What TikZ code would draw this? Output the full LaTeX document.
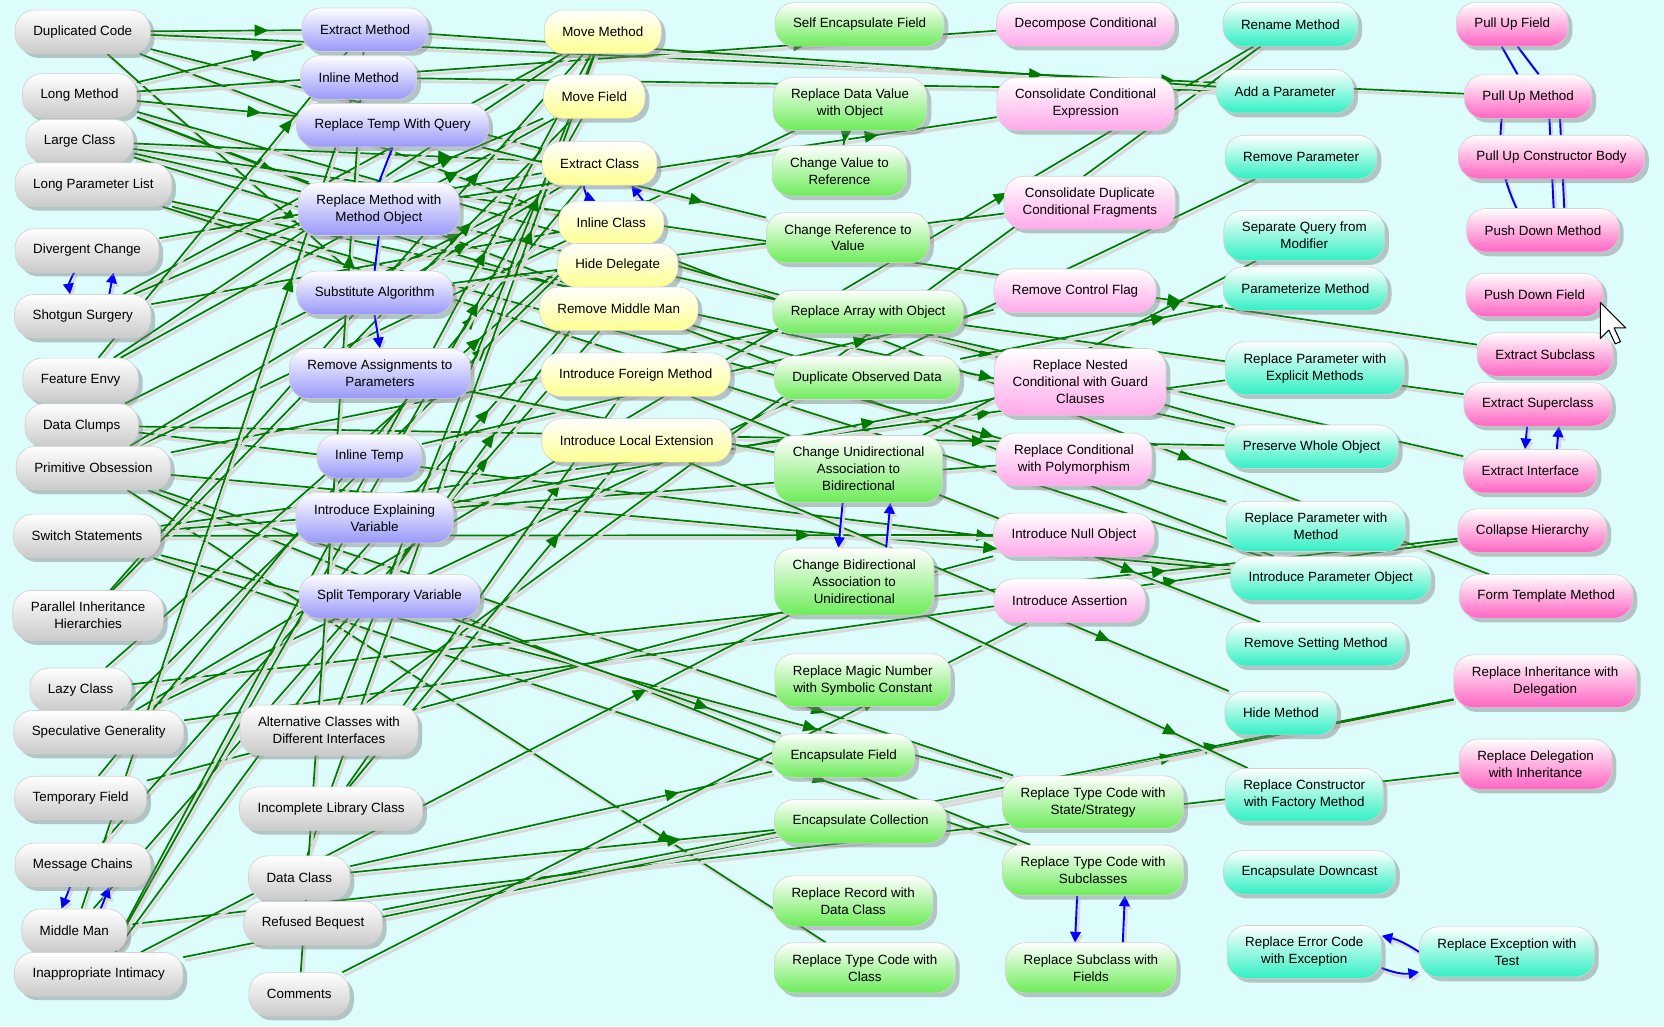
\documentclass[tikz,border=0pt]{standalone}
\usepackage{fontspec}
\setmainfont{Liberation Sans}
\usetikzlibrary{shadows,decorations.markings,arrows.meta,backgrounds}
\definecolor{bg}{HTML}{DDFCFC}
\definecolor{cg}{HTML}{CACACA}
\definecolor{cp}{HTML}{9898FA}
\definecolor{cy}{HTML}{FFFF90}
\definecolor{cgr}{HTML}{6CEC58}
\definecolor{cpk}{HTML}{FFA8EA}
\definecolor{ct}{HTML}{30F0C4}
\definecolor{cm}{HTML}{FF64C2}
\definecolor{eg}{HTML}{007A00}
\tikzset{
 box/.style={rounded corners=18pt, draw=gray!35, line width=0.6pt, top color=white, bottom color=#1,
   minimum height=41pt, inner xsep=17pt, inner ysep=11pt, align=center,
   font=\fontsize{12.6}{16}\selectfont,
   drop shadow={opacity=0.45, shadow xshift=4pt, shadow yshift=-4pt, fill=gray}},
 e/.style={draw=eg, line width=1.6pt,
   preaction={draw=gray!30, line width=2.6pt, transform canvas={shift={(2pt,-3pt)}}},
   postaction={decorate}, decoration={markings, mark=at position 0.78 with {\arrow{Triangle[length=13pt,width=11pt]}}}},
 b/.style={draw=blue, line width=1.8pt, -{Triangle[length=10pt,width=10pt]},
   preaction={draw=gray!30, line width=2.6pt, transform canvas={shift={(2pt,-3pt)}}}},
}
\newcommand\N[5]{\node[box=#4] (#1) at (#2,#3) {#5};}
\begin{document}
\begin{tikzpicture}[x=1pt,y=-1pt]
\useasboundingbox (0,0) rectangle (1568,967);
% smells
\N{dup}{78}{30}{cg}{Duplicated Code}
\N{lm}{75}{90}{cg}{Long Method}
\N{lc}{75}{133}{cg}{Large Class}
\N{lpl}{88}{174}{cg}{Long Parameter List}
\N{dc}{82}{236}{cg}{Divergent Change}
\N{ss}{78}{298}{cg}{Shotgun Surgery}
\N{fe}{76}{358}{cg}{Feature Envy}
\N{dcl}{77}{401}{cg}{Data Clumps}
\N{po}{88}{441}{cg}{Primitive Obsession}
\N{sw}{82}{505}{cg}{Switch Statements}
\N{pih}{83}{580}{cg}{Parallel Inheritance\\Hierarchies}
\N{lz}{76}{650}{cg}{Lazy Class}
\N{sg}{93}{690}{cg}{Speculative Generality}
\N{tf}{76}{752}{cg}{Temporary Field}
\N{mc}{78}{815}{cg}{Message Chains}
\N{mm}{70}{877}{cg}{Middle Man}
\N{ii}{93}{918}{cg}{Inappropriate Intimacy}
\N{ac}{310}{688}{cg}{Alternative Classes with\\Different Interfaces}
\N{ilc}{312}{762}{cg}{Incomplete Library Class}
\N{dcls}{282}{827}{cg}{Data Class}
\N{rb}{295}{870}{cg}{Refused Bequest}
\N{com}{282}{937}{cg}{Comments}
% purple
\N{em}{344}{28}{cp}{Extract Method}
\N{im}{338}{73}{cp}{Inline Method}
\N{rtq}{370}{118}{cp}{Replace Temp With Query}
\N{rmmo}{357}{197}{cp}{Replace Method with\\Method Object}
\N{sa}{353}{276}{cp}{Substitute Algorithm}
\N{rap}{358}{352}{cp}{Remove Assignments to\\Parameters}
\N{it}{348}{430}{cp}{Inline Temp}
\N{iev}{353}{488}{cp}{Introduce Explaining\\Variable}
\N{stv}{367}{562}{cp}{Split Temporary Variable}
% yellow
\N{mvm}{568}{30}{cy}{Move Method}
\N{mvf}{560}{91}{cy}{Move Field}
\N{ec}{565}{154}{cy}{Extract Class}
\N{ic}{576}{210}{cy}{Inline Class}
\N{hd}{582}{250}{cy}{Hide Delegate}
\N{rmm}{583}{291}{cy}{Remove Middle Man}
\N{ifm}{599}{353}{cy}{Introduce Foreign Method}
\N{ile}{600}{415}{cy}{Introduce Local Extension}
% green
\N{sef}{810}{23}{cgr}{Self Encapsulate Field}
\N{rdvo}{801}{98}{cgr}{Replace Data Value\\with Object}
\N{cvr}{791}{161}{cgr}{Change Value to\\Reference}
\N{crv}{799}{224}{cgr}{Change Reference to\\Value}
\N{rao}{818}{294}{cgr}{Replace Array with Object}
\N{dod}{817}{356}{cgr}{Duplicate Observed Data}
\N{cub}{809}{442}{cgr}{Change Unidirectional\\Association to\\Bidirectional}
\N{cbu}{805}{548}{cgr}{Change Bidirectional\\Association to\\Unidirectional}
\N{rmn}{813}{641}{cgr}{Replace Magic Number\\with Symbolic Constant}
\N{ef}{795}{712}{cgr}{Encapsulate Field}
\N{ecol}{811}{774}{cgr}{Encapsulate Collection}
\N{rrdc}{804}{849}{cgr}{Replace Record with\\Data Class}
\N{rtcc}{815}{912}{cgr}{Replace Type Code with\\Class}
\N{rtcs}{1030}{756}{cgr}{Replace Type Code with\\State/Strategy}
\N{rtcsub}{1030}{820}{cgr}{Replace Type Code with\\Subclasses}
\N{rsf}{1028}{912}{cgr}{Replace Subclass with\\Fields}
% pink
\N{dcond}{1023}{23}{cpk}{Decompose Conditional}
\N{cce}{1023}{98}{cpk}{Consolidate Conditional\\Expression}
\N{cdcf}{1027}{191}{cpk}{Consolidate Duplicate\\Conditional Fragments}
\N{rcf}{1013}{274}{cpk}{Remove Control Flag}
\N{rncg}{1018}{360}{cpk}{Replace Nested\\Conditional with Guard\\Clauses}
\N{rcp}{1012}{433}{cpk}{Replace Conditional\\with Polymorphism}
\N{ino}{1012}{504}{cpk}{Introduce Null Object}
\N{ia}{1008}{566}{cpk}{Introduce Assertion}
% teal
\N{rnm}{1216}{23}{ct}{Rename Method}
\N{aap}{1211}{86}{ct}{Add a Parameter}
\N{rp}{1226}{148}{ct}{Remove Parameter}
\N{sqm}{1229}{222}{ct}{Separate Query from\\Modifier}
\N{pm}{1230}{272}{ct}{Parameterize Method}
\N{rpem}{1239}{347}{ct}{Replace Parameter with\\Explicit Methods}
\N{pwo}{1236}{421}{ct}{Preserve Whole Object}
\N{rpm}{1240}{496}{ct}{Replace Parameter with\\Method}
\N{ipo}{1254}{545}{ct}{Introduce Parameter Object}
\N{rsm}{1240}{607}{ct}{Remove Setting Method}
\N{hm}{1207}{672}{ct}{Hide Method}
\N{rcfm}{1229}{749}{ct}{Replace Constructor\\with Factory Method}
\N{edc}{1234}{822}{ct}{Encapsulate Downcast}
\N{rece}{1229}{897}{ct}{Replace Error Code\\with Exception}
\N{rewt}{1420}{897}{ct}{Replace Exception with\\Test}
% magenta
\N{puf}{1425}{23}{cm}{Pull Up Field}
\N{pum}{1440}{91}{cm}{Pull Up Method}
\N{pucb}{1462}{148}{cm}{Pull Up Constructor Body}
\N{pdm}{1454}{217}{cm}{Push Down Method}
\N{pdf}{1446}{278}{cm}{Push Down Field}
\N{esub}{1456}{334}{cm}{Extract Subclass}
\N{esup}{1449}{381}{cm}{Extract Superclass}
\N{ei}{1442}{444}{cm}{Extract Interface}
\N{ch}{1444}{500}{cm}{Collapse Hierarchy}
\N{ftm}{1457}{562}{cm}{Form Template Method}
\N{rid}{1456}{642}{cm}{Replace Inheritance with\\Delegation}
\N{rdi}{1447}{720}{cm}{Replace Delegation\\with Inheritance}
\begin{pgfonlayer}{background}
\fill[bg] (0,0) rectangle (1568,967);
\foreach \a/\b in {dup/em,dup/ec,dup/pum,dup/ftm,dup/sa,
 lm/em,lm/rtq,lm/rmmo,lm/dcond,lm/ipo,lm/pwo,
 lc/ec,lc/esub,lc/ei,lc/dod,
 lpl/rpm,lpl/ipo,lpl/pwo,
 dc/ec,ss/mvm,ss/mvf,ss/ic,
 fe/mvm,fe/mvf,fe/em,
 dcl/ec,dcl/ipo,dcl/pwo,
 po/rdvo,po/rtcc,po/rtcsub,po/rtcs,po/ec,po/ipo,po/rao,
 sw/rcp,sw/rtcsub,sw/rtcs,sw/rpem,sw/ino,
 pih/mvm,pih/mvf,lz/ic,lz/ch,sg/ch,sg/ic,sg/rp,sg/rnm,
 tf/ec,tf/ino,mc/hd,mm/rmm,mm/im,mm/rdi,
 ii/mvm,ii/mvf,ii/cbu,ii/rid,ii/hd,
 ac/rnm,ac/mvm,ilc/ifm,ilc/ile,
 dcls/mvm,dcls/ef,dcls/ecol,rb/rid,com/em,com/ia,
 it/rcf,iev/rncg,stv/ef,rap/cub,rtq/crv,sa/cdcf,rmmo/cce,im/aap,em/aap,
 ifm/rsm,ile/hm,cbu/rcfm,cub/sqm,rao/esup,dod/pm,rdvo/cvr}
  \draw[e] (\a) -- (\b);
% blue edges
\draw[b] ([xshift=-12pt]dc.south) to[bend right=20] ([xshift=-12pt]ss.north);
\draw[b] ([xshift=25pt]ss.north) -- ([xshift=25pt]dc.south);
\draw[b] ([xshift=-12pt]mc.south) -- ([xshift=-12pt]mm.north);
\draw[b] ([xshift=25pt]mm.north) -- ([xshift=25pt]mc.south);
\draw[b,-] (rtq.south) -- (rmmo.north);
\draw[b,-] (rmmo.south) -- (sa.north);
\draw[b] (sa.south) -- (rap.north);
\draw[b] ([xshift=-15pt]ec.south) to[bend right=30] ([xshift=-15pt]ic.north);
\draw[b] ([xshift=30pt]ic.north) -- ([xshift=30pt]ec.south);
\draw[b] ([xshift=-15pt]cub.south) -- ([xshift=-15pt]cbu.north);
\draw[b] ([xshift=30pt]cbu.north) -- ([xshift=30pt]cub.south);
\draw[b] ([xshift=-15pt]rtcsub.south) -- ([xshift=-15pt]rsf.north);
\draw[b] ([xshift=30pt]rsf.north) -- ([xshift=30pt]rtcsub.south);
\draw[b,-] ([xshift=-10pt]puf.south) -- ([xshift=-10pt]pum.north);
\draw[b,-] ([xshift=5pt]puf.south) -- ([xshift=10pt]pum.north);
\draw[b,-] ([xshift=-25pt]pum.south) to[bend right=15] ([xshift=-25pt]pdm.north);
\draw[b,-] ([xshift=20pt]pum.south) -- ([xshift=10pt]pdm.north);
\draw[b,-] ([xshift=30pt]pum.south) -- ([xshift=20pt]pdm.north);
\draw[b] ([xshift=-10pt]esup.south) -- ([xshift=-5pt]ei.north);
\draw[b] ([xshift=25pt]ei.north) -- ([xshift=20pt]esup.south);
\draw[b] (rewt.west) to[bend right=10] ([yshift=-10pt]rece.north east);
\draw[b] ([yshift=10pt]rece.south east) to[bend right=15] ([yshift=5pt]rewt.south west);
\end{pgfonlayer}
% cursor
\coordinate (cur) at (1508,285);
\draw[fill=white,line width=1pt,line join=round] (cur) -- ++(0,34) -- ++(8,-8) -- ++(6,13) -- ++(5,-2) -- ++(-6,-13) -- ++(11,0) -- cycle;
\end{tikzpicture}
\end{document}
